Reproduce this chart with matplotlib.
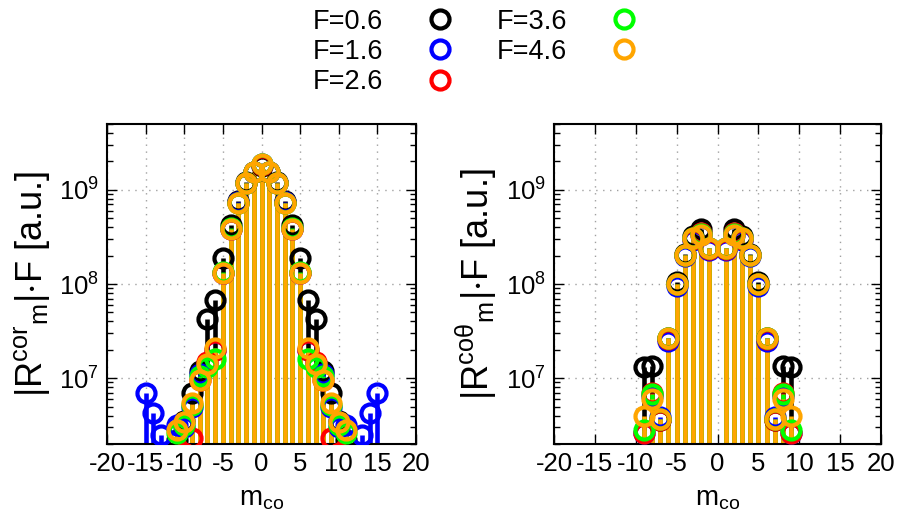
import numpy as np
import matplotlib
matplotlib.use('Agg')
import matplotlib.pyplot as plt
from matplotlib.lines import Line2D
from matplotlib.ticker import LogLocator, MultipleLocator, NullFormatter

plt.rcParams['font.family'] = 'Liberation Sans'
plt.rcParams['mathtext.fontset'] = 'custom'
plt.rcParams['mathtext.rm'] = 'Liberation Sans'
plt.rcParams['mathtext.it'] = 'Liberation Sans'
plt.rcParams['mathtext.default'] = 'regular'
plt.rcParams['axes.unicode_minus'] = False

# series labels and colours
labels = ['F=0.6', 'F=1.6', 'F=2.6', 'F=3.6', 'F=4.6']
colors = ['black', '#0000ff', '#ff0000', '#00ff00', '#ffa500']

# left panel: |R^co r_m| * F
m_r = [-15, -14, -13, -12, -11, -10, -9, -8, -7, -6, -5, -4, -3, -2, -1, 0,
       1, 2, 3, 4, 5, 6, 7, 8, 9, 10, 11, 12, 13, 14, 15]
r_f06 = [1e6, 1e6, 1e6, 1e6, 2.2e6, 3.5e6, 7e6, 1.2e7, 4.2e7, 6.8e7, 1.9e8, 4.2e8, 7.6e8, 1.2e9, 1.55e9, 1.8e9,
         1.55e9, 1.2e9, 7.6e8, 4.2e8, 1.9e8, 6.8e7, 4.2e7, 1.2e7, 7e6, 3.5e6, 2.2e6, 1e6, 1e6, 1e6, 1e6]
r_f16 = [7e6, 4.3e6, 2.5e6, 1.5e6, 3.2e6, 3.0e6, 5.0e6, 1.1e7, 1.4e7, 2.0e7, 1.3e8, 3.8e8, 7.4e8, 1.18e9, 1.56e9, 1.86e9,
         1.56e9, 1.18e9, 7.4e8, 3.8e8, 1.3e8, 2.0e7, 1.4e7, 1.1e7, 5.0e6, 3.0e6, 3.2e6, 1.5e6, 2.5e6, 4.3e6, 7e6]
r_f26 = [1e6, 1e6, 1e6, 1e6, 1.5e6, 1.6e6, 2.3e6, 9.5e6, 1.5e7, 2.0e7, 1.3e8, 3.8e8, 7.3e8, 1.18e9, 1.55e9, 1.85e9,
         1.55e9, 1.18e9, 7.3e8, 3.8e8, 1.3e8, 2.0e7, 1.5e7, 9.5e6, 2.3e6, 1.6e6, 1.5e6, 1e6, 1e6, 1e6, 1e6]
r_f36 = [1e6, 1e6, 1e6, 1e6, 2.6e6, 3.2e6, 5.2e6, 1.05e7, 1.3e7, 1.6e7, 1.35e8, 3.9e8, 7.3e8, 1.18e9, 1.56e9, 1.87e9,
         1.56e9, 1.18e9, 7.3e8, 3.9e8, 1.35e8, 1.6e7, 1.3e7, 1.05e7, 5.2e6, 3.2e6, 2.6e6, 1e6, 1e6, 1e6, 1e6]
r_f46 = [1e6, 1e6, 1e6, 1e6, 2.8e6, 3.4e6, 5.4e6, 9.5e6, 1.4e7, 2.1e7, 1.32e8, 3.8e8, 7.2e8, 1.18e9, 1.56e9, 1.88e9,
         1.56e9, 1.18e9, 7.2e8, 3.8e8, 1.32e8, 2.1e7, 1.4e7, 9.5e6, 5.4e6, 3.4e6, 2.8e6, 1e6, 1e6, 1e6, 1e6]

# right panel: |R^co theta_m| * F  (no m=0 term)
m_t = [-9, -8, -7, -6, -5, -4, -3, -2, -1, 1, 2, 3, 4, 5, 6, 7, 8, 9]
t_f06 = [1.3e7, 1.35e7, 3.6e6, 2.7e7, 1.05e8, 2.1e8, 3.2e8, 3.8e8, 2.4e8,
         2.4e8, 3.8e8, 3.2e8, 2.1e8, 1.05e8, 2.7e7, 3.6e6, 1.35e7, 1.3e7]
t_f16 = [2.6e6, 6.5e6, 3.9e6, 2.5e7, 9.6e7, 2.0e8, 2.95e8, 3.3e8, 2.3e8,
         2.3e8, 3.3e8, 2.95e8, 2.0e8, 9.6e7, 2.5e7, 3.9e6, 6.5e6, 2.6e6]
t_f26 = [2.6e6, 7.0e6, 3.6e6, 2.6e7, 1.0e8, 2.05e8, 3.0e8, 3.5e8, 2.35e8,
         2.35e8, 3.5e8, 3.0e8, 2.05e8, 1.0e8, 2.6e7, 3.6e6, 7.0e6, 2.6e6]
t_f36 = [2.8e6, 6.8e6, 3.7e6, 2.65e7, 1.0e8, 2.05e8, 3.05e8, 3.4e8, 2.4e8,
         2.4e8, 3.4e8, 3.05e8, 2.05e8, 1.0e8, 2.65e7, 3.7e6, 6.8e6, 2.8e6]
t_f46 = [4.0e6, 6.0e6, 3.7e6, 2.7e7, 1.0e8, 2.05e8, 3.1e8, 3.3e8, 2.4e8,
         2.4e8, 3.3e8, 3.1e8, 2.05e8, 1.0e8, 2.7e7, 3.7e6, 6.0e6, 4.0e6]

panels = [
    (m_r, [r_f06, r_f16, r_f26, r_f36, r_f46], r'$|R^{co r}{}_{m}|{\cdot}F$ [a.u.]'),
    (m_t, [t_f06, t_f16, t_f26, t_f36, t_f46], r'$|R^{co\theta}{}_{m}|{\cdot}F$ [a.u.]'),
]

fig = plt.figure(figsize=(8.99, 5.28), dpi=100)
ax_l = fig.add_axes([107/899, 84/528, 309/899, 320/528])
ax_r = fig.add_axes([554/899, 84/528, 327/899, 320/528])

for ax, (m, series, ylab) in zip([ax_l, ax_r], panels):
    ax.set_yscale('log')
    for vals, c in zip(series, colors):
        ax.vlines(m, 1e5, vals, colors=c, lw=3.3, zorder=2)
        ax.plot(m, vals, 'o', ms=13, mfc='none', mec=c, mew=3, zorder=3)
    ax.set_xlim(-20, 20)
    ax.set_ylim(2e6, 5e9)
    ax.xaxis.set_major_locator(MultipleLocator(5))
    ax.yaxis.set_major_locator(LogLocator(base=10, numticks=10))
    ax.yaxis.set_minor_locator(LogLocator(base=10, subs=np.arange(2, 10), numticks=20))
    ax.yaxis.set_minor_formatter(NullFormatter())
    ax.grid(True, which='major', color='#a0a0a0', ls=(0, (1, 4)), lw=1, zorder=0)
    ax.tick_params(which='both', direction='in', top=True, right=True, labelsize=18.5, width=1)
    ax.tick_params(which='major', length=7, pad=6)
    ax.tick_params(which='minor', length=4)
    for s in ax.spines.values():
        s.set_linewidth(1.5)
    ax.set_xlabel(r'm$_{co}$', fontsize=20, labelpad=7)
    ax.set_ylabel(ylab, fontsize=26, labelpad=5)

handles = [Line2D([], [], ls='none', marker='o', ms=13, mfc='none', mec=c, mew=3) for c in colors]
fig.legend(handles, labels, loc='upper center', bbox_to_anchor=(0.532, 1.03), ncol=2,
           frameon=False, markerfirst=False, fontsize=19.5, handlelength=1.5,
           handletextpad=1.35, columnspacing=1.35, labelspacing=0.16)

fig.savefig('out.png', dpi=100)
